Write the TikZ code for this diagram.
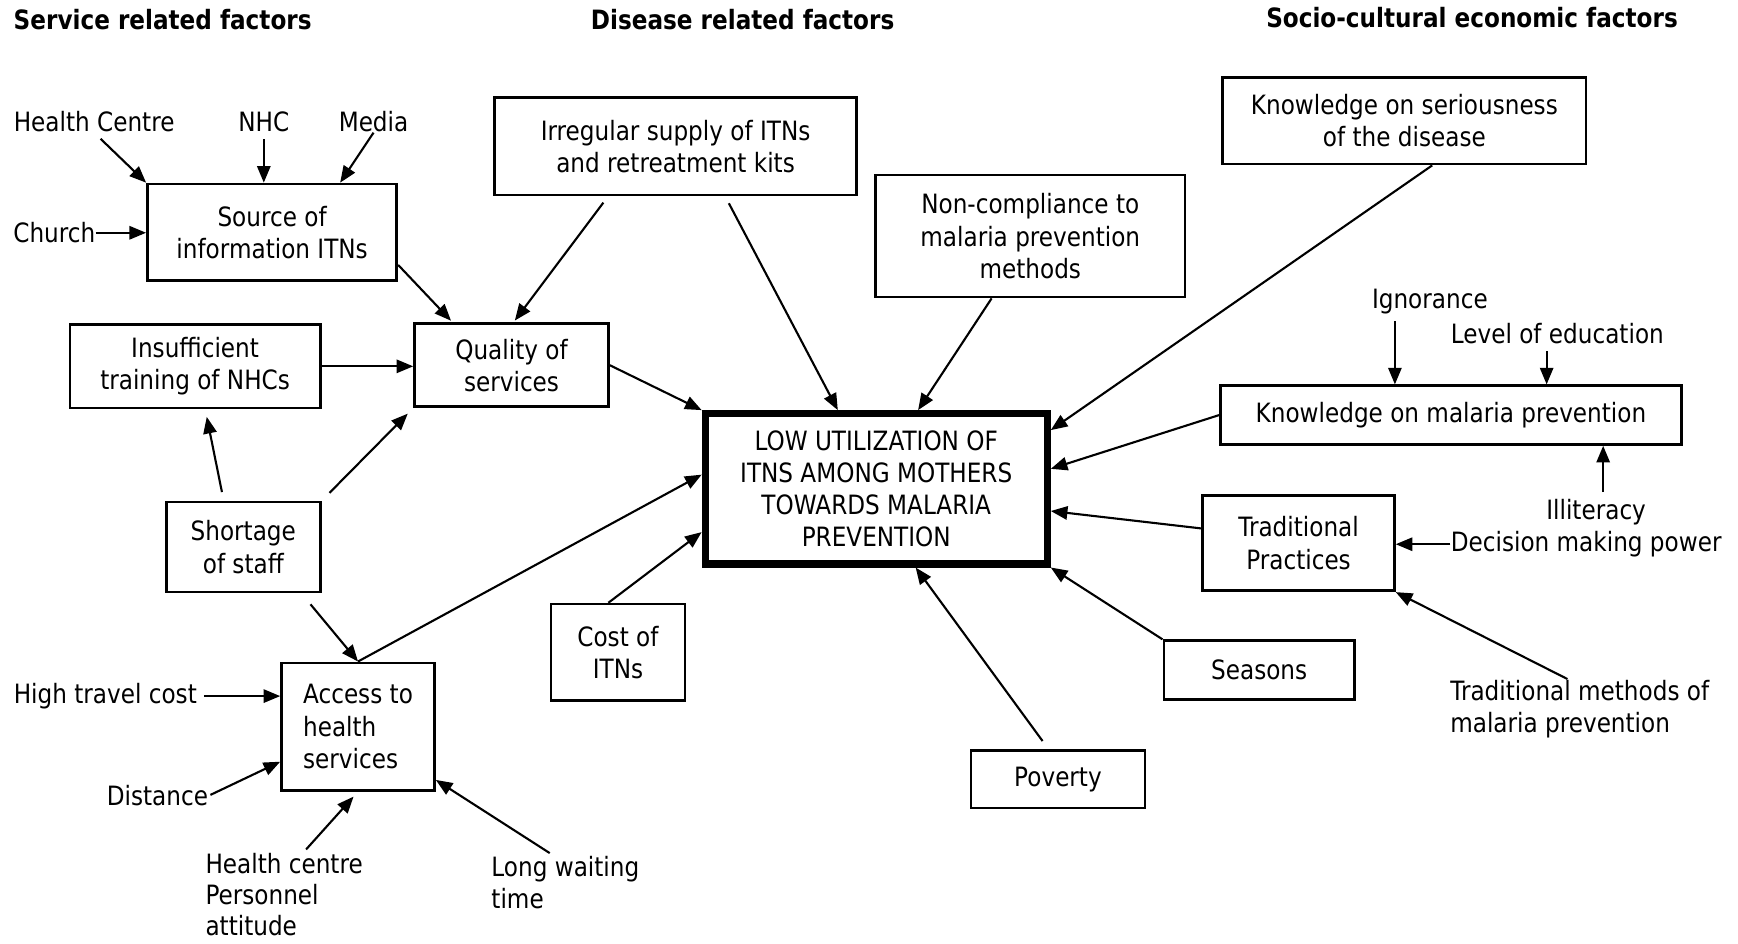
\documentclass[tikz,border=0pt]{standalone}
\usepackage{fontspec}
\setmainfont{DejaVu Sans}[FakeStretch=0.87]
\usetikzlibrary{arrows.meta,calc}
\begin{document}
\begin{tikzpicture}[x=0.5pt,y=-0.5pt,
  every node/.style={font=\fontsize{12}{14.5}\selectfont, inner sep=0pt},
  box/.style={draw, line width=1.2pt, align=center},
  lbl/.style={align=left},
  ttl/.style={font=\fontsize{12}{14.5}\selectfont\bfseries},
  arr/.style={line width=0.95pt, -{Triangle[length=7.5pt,width=6pt]}},
  ]
\useasboundingbox (0,0) rectangle (1568,851);

% titles
\node[ttl, anchor=west] (t1) at (12,18) {Service related factors};
\node[ttl] (t2) at (670,18) {Disease related factors};
\node[ttl] (t3) at (1328,16) {Socio-cultural economic factors};

% boxes
\node[box, minimum width=112.5pt, minimum height=43.5pt] (src) at (245.5,209.5) {Source of\\information ITNs};
\node[box, minimum width=163.5pt, minimum height=44pt] (irr) at (609.5,132) {Irregular supply of ITNs\\and retreatment kits};
\node[box, minimum width=87.5pt, minimum height=37.5pt] (qual) at (461.5,329.5) {Quality of\\services};
\node[box, minimum width=113pt, minimum height=37.5pt] (ins) at (176,330.5) {Insufficient\\training of NHCs};
\node[box, minimum width=69.5pt, minimum height=40.5pt] (short) at (219.5,493.5) {Shortage\\of staff};
\node[box, align=left, minimum width=69pt, minimum height=57.5pt] (acc) at (323,655.5) {Access to\\health\\services};
\node[box, minimum width=60.5pt, minimum height=43.5pt] (cost) at (557.5,588.5) {Cost of\\ITNs};
\node[box, line width=3.2pt, minimum width=154.3pt, minimum height=67.8pt] (cen) at (790.5,441) {LOW UTILIZATION OF\\ITNS AMONG MOTHERS\\TOWARDS MALARIA\\PREVENTION};
\node[box, minimum width=139.5pt, minimum height=55pt] (nc) at (929.5,213) {Non-compliance to\\malaria prevention\\methods};
\node[box, minimum width=164pt, minimum height=39pt] (ks) at (1267,109) {Knowledge on seriousness\\of the disease};
\node[box, minimum width=208pt, minimum height=26.5pt] (km) at (1309,374.5) {Knowledge on malaria prevention};
\node[box, minimum width=86.5pt, minimum height=43pt] (trad) at (1171.5,490) {Traditional\\Practices};
\node[box, minimum width=86pt, minimum height=26.5pt] (sea) at (1136,604.5) {Seasons};
\node[box, minimum width=78.5pt, minimum height=26pt] (pov) at (954.5,703) {Poverty};

% labels
\node (hc) at (85,110) {Health Centre};
\node (nhc) at (238,110) {NHC};
\node (med) at (337,110) {Media};
\node (chu) at (49,210) {Church};
\node (htc) at (95,628) {High travel cost};
\node (dist) at (142,718) {Distance};
\node[lbl, anchor=west, font=\fontsize{12}{14}\selectfont] (hcpa) at (185,807) {Health centre\\Personnel\\attitude};
\node[lbl, anchor=west] (lwt) at (443,796) {Long waiting\\time};
\node (ign) at (1290,272) {Ignorance};
\node (lev) at (1405,301) {Level of education};
\node (ill) at (1440,462) {Illiteracy};
\node (dmp) at (1431,491) {Decision making power};
\node[lbl, anchor=west] (tm) at (1308,640) {Traditional methods of\\malaria prevention};

% arrows: source of information
\draw[arr, shorten <=4pt] (hc.south) -- (src.north west);
\draw[arr, shorten <=3pt] (nhc.south) -- (nhc.south |- src.north);
\draw[arr] (med.south) -- ($(src.north west)!0.77!(src.north east)$);
\draw[arr] (chu.east) -- (chu.east -| src.west);

% into quality
\draw[arr, shorten >=1pt] ($(src.north east)!0.83!(src.south east)$) -- ($(qual.north west)!0.2!(qual.north east)$);
\draw[arr, shorten <=3.5pt, shorten >=1pt] ($(irr.south west)!0.315!(irr.south east)$) -- ($(qual.north west)!0.51!(qual.north east)$);
\draw[arr] (ins.east) -- (ins.east -| qual.west);
\draw[arr, shorten <=5pt, shorten >=3.5pt] (short.north east) -- (qual.south west);
\draw[arr, shorten <=4pt, shorten >=3.5pt] ($(short.north west)!0.375!(short.north east)$) -- ($(ins.south west)!0.54!(ins.south east)$);

% into access
\draw[arr, shorten <=6.5pt] ($(short.south west)!0.87!(short.south east)$) -- (acc.north);
\draw[arr, shorten <=3pt] (htc.east) -- (htc.east -| acc.west);
\draw[arr, shorten <=1pt] (dist.east) -- ($(acc.north west)!0.77!(acc.south west)$);
\draw[arr, shorten <=2pt, shorten >=3pt] ($(hcpa.north west)!0.62!(hcpa.north east)$) -- (acc.south);
\draw[arr, shorten <=2pt] ($(lwt.north west)!0.42!(lwt.north east)$) -- ($(acc.north east)!0.91!(acc.south east)$);

% into central
\draw[arr] (qual.east) -- (cen.north west);
\draw[arr, shorten <=3.5pt] ($(irr.south west)!0.636!(irr.south east)$) -- ($(cen.north west)!0.39!(cen.north east)$);
\draw[arr] (acc.north) -- ($(cen.north west)!0.41!(cen.south west)$);
\draw[arr] ($(cost.north west)!0.43!(cost.north east)$) -- ($(cen.north west)!0.775!(cen.south west)$);
\draw[arr] ($(nc.south west)!0.376!(nc.south east)$) -- ($(cen.north west)!0.62!(cen.north east)$);
\draw[arr] ($(ks.south west)!0.576!(ks.south east)$) -- ($(cen.north east)!0.127!(cen.south east)$);
\draw[arr] (km.west) -- ($(cen.north east)!0.373!(cen.south east)$);
\draw[arr] ($(trad.north west)!0.35!(trad.south west)$) -- ($(cen.north east)!0.641!(cen.south east)$);
\draw[arr] (sea.north west) -- (cen.south east);
\draw[arr, shorten <=4.5pt] ($(pov.north west)!0.446!(pov.north east)$) -- ($(cen.south west)!0.613!(cen.south east)$);

% socio-cultural small arrows
\coordinate (ign0) at ($(ign.south west)!0.2!(ign.south east)$);
\draw[arr, shorten <=3pt] (ign0) -- (ign0 |- km.north);
\coordinate (lev0) at ($(lev.south west)!0.45!(lev.south east)$);
\draw[arr, shorten <=3pt] (lev0) -- (lev0 |- km.north);
\coordinate (ill0) at ($(ill.north west)!0.57!(ill.north east)$);
\draw[arr, shorten <=3pt] (ill0) -- (ill0 |- km.south);
\draw[arr] (dmp.west) -- (dmp.west -| trad.east);
\draw[arr, shorten <=1pt] ($(tm.north west)!0.46!(tm.north east)$) -- (trad.south east);
\end{tikzpicture}
\end{document}
